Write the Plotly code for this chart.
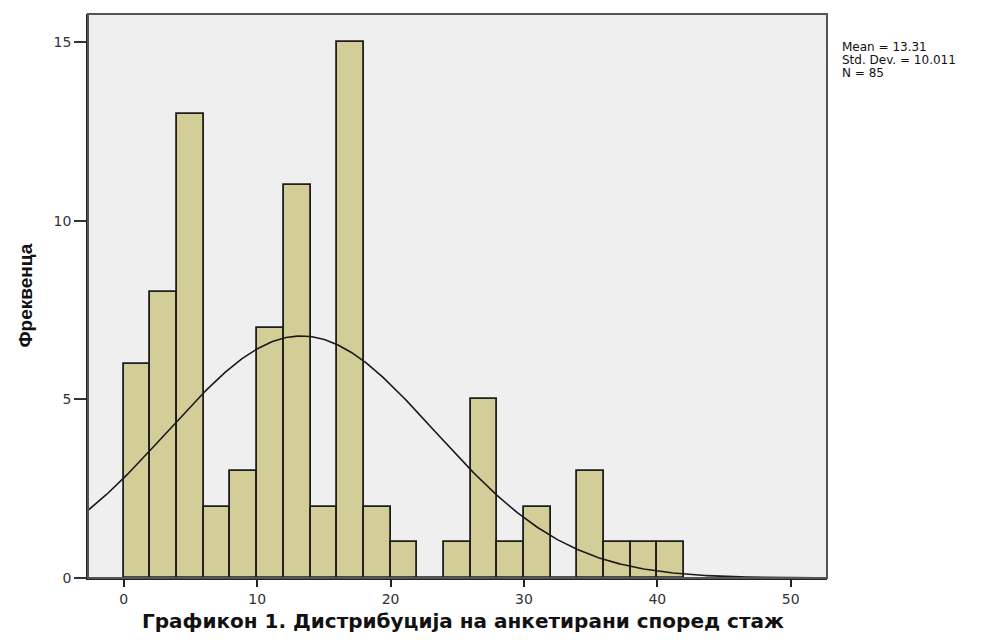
import numpy as np
import plotly.graph_objects as go

# Histogram data (bin width 2, starting at 0)
bin_edges_start = [0, 2, 4, 6, 8, 10, 12, 14, 16, 18, 20, 22, 24, 26, 28, 30, 32, 34, 36, 38, 40]
counts = [6, 8, 13, 2, 3, 7, 11, 2, 15, 2, 1, 0, 1, 5, 1, 2, 0, 3, 1, 1, 1]
bin_width = 2

mean = 13.31
std_dev = 10.011
n_obs = 85

x_ticks = [0, 10, 20, 30, 40, 50]
y_ticks = [0, 5, 10, 15]

x_title = "Графикон 1. Дистрибуција на анкетирани според стаж"
y_title = "Фреквенца"
stats_lines = ["Mean = 13.31", "Std. Dev. = 10.011", "N = 85"]

x_range = [-2.68, 52.72]
y_range = [0, 15.79]

# fitted normal curve (as drawn by SPSS from the summary stats)
xc = np.linspace(x_range[0], x_range[1], 400)
yc = n_obs * bin_width / (std_dev * np.sqrt(2 * np.pi)) * np.exp(-0.5 * ((xc - mean) / std_dev) ** 2)

centers = [s + bin_width / 2 for s in bin_edges_start]

fig = go.Figure()
fig.add_trace(go.Bar(
    x=centers, y=counts, width=[bin_width] * len(counts),
    marker=dict(color="#D3CE97", line=dict(color="#1e1e1e", width=1.8)),
    hoverinfo="skip",
))
fig.add_trace(go.Scatter(
    x=xc, y=yc, mode="lines", line=dict(color="#1a1a1a", width=1.6),
    hoverinfo="skip",
))

axis_font = dict(family="DejaVu Sans, Liberation Sans, sans-serif", size=14, color="#333333")

fig.update_layout(
    width=1000, height=640,
    margin=dict(l=79.5, r=180.7, t=6.3, b=69.7),
    paper_bgcolor="white",
    plot_bgcolor="#EFEFEF",
    showlegend=False,
    bargap=0,
    xaxis=dict(
        range=x_range, tickvals=x_ticks, ticks="outside", ticklen=7, tickwidth=1.5,
        tickcolor="#222222", showgrid=False, zeroline=False,
        showline=True, linecolor="#222222", linewidth=1.5,
        tickfont=axis_font,
    ),
    yaxis=dict(
        range=y_range, tickvals=y_ticks, ticks="outside", ticklen=12, tickwidth=1.5,
        tickcolor="#333333", showgrid=False, zeroline=False,
        showline=True, linecolor="#222222", linewidth=1.5,
        tickfont=axis_font,
    ),
    shapes=[dict(
        type="rect", xref="paper", yref="paper", x0=0, x1=1, y0=0, y1=1,
        line=dict(color="#555555", width=2), layer="above",
    )],
)

annotations = [
    dict(x=0.5076, y=-0.0757, xref="paper", yref="paper",
         text="<b>" + x_title + "</b>", showarrow=False, xanchor="center", yanchor="middle",
         font=dict(family="DejaVu Sans, Liberation Sans, sans-serif", size=20, color="#111111")),
    dict(x=-0.0858, y=0.5, xref="paper", yref="paper",
         text="<b>" + y_title + "</b>", showarrow=False, textangle=-90,
         xanchor="center", yanchor="middle",
         font=dict(family="Liberation Sans, Arial, sans-serif", size=19, color="#111111")),
]
stat_y = [0.9420, 0.9190, 0.8960]
for txt, yy in zip(stats_lines, stat_y):
    annotations.append(dict(x=1.0172, y=yy, xref="paper", yref="paper", text=txt, showarrow=False,
                            xanchor="left", yanchor="middle",
                            font=dict(family="DejaVu Sans, Liberation Sans, sans-serif", size=12, color="#111111")))
fig.update_layout(annotations=annotations)

fig.write_html("out.html")
